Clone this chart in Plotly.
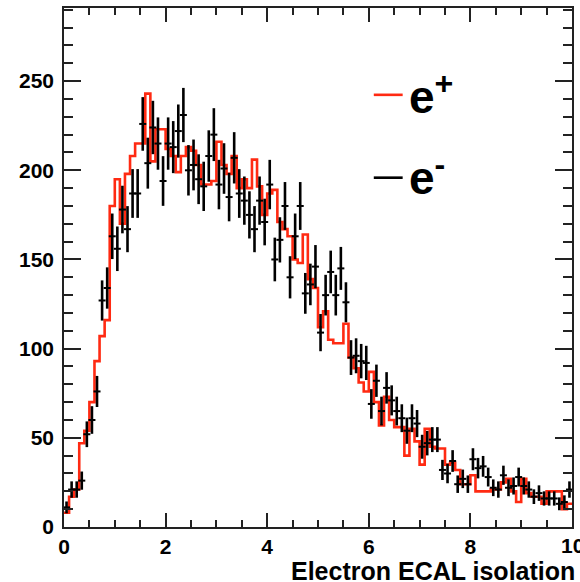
import numpy as np
import plotly.graph_objects as go

# bin edges: 100 bins from 0 to 10
bin_lo = 0.0
bin_hi = 10.0
n_bins = 100

# e+ histogram (red)
e_plus = [8, 17, 21, 47, 54, 70, 93, 107, 116, 180,
          195, 170, 198, 208, 215, 215, 243, 205, 223, 223,
          212, 208, 199, 208, 213, 211, 203, 192, 192, 194,
          216, 203, 198, 208, 190, 195, 190, 206, 191, 175,
          187, 189, 171, 167, 163, 150, 148, 164, 139, 134,
          112, 121, 105, 103, 103, 114, 95, 89, 81, 76,
          87, 70, 57, 73, 60, 56, 56, 40, 55, 48,
          35, 55, 45, 44, 44, 35, 36, 32, 24, 24,
          29, 20, 20, 20, 21, 21, 25, 27, 20, 14,
          27, 19, 17, 17, 13, 20, 20, 20, 10, 13]

# e- points (black)
e_minus = [11, 21, 21, 26, 52, 60, 76, 127, 134, 163,
           156, 178, 167, 187, 187, 226, 204, 224, 215, 194,
           215, 213, 222, 231, 200, 203, 195, 191, 208, 220,
           192, 201, 185, 207, 187, 183, 175, 167, 183, 171,
           192, 150, 161, 180, 140, 163, 180, 131, 136, 146,
           109, 130, 143, 130, 145, 126, 95, 96, 93, 92,
           69, 82, 65, 78, 71, 65, 61, 54, 61, 58,
           45, 47, 49, 49, 32, 30, 37, 24, 27, 24,
           38, 33, 34, 28, 22, 21, 29, 22, 23, 28,
           23, 21, 17, 19, 16, 16, 16, 13, 14, 21]

x_ticks = [0, 2, 4, 6, 8, 10]
x_labels = ['0', '2', '4', '6', '8', '10']
y_ticks = [0, 50, 100, 150, 200, 250]
y_labels = ['0', '50', '100', '150', '200', '250']

edges = np.linspace(bin_lo, bin_hi, n_bins + 1)
centers = 0.5 * (edges[:-1] + edges[1:])

RED = '#ff2a12'
FONT = 'Liberation Sans'
AX = '#222222'

fig = go.Figure()

fig.add_trace(go.Scatter(
    x=edges, y=list(e_plus) + [e_plus[-1]],
    mode='lines', line=dict(color=RED, width=2.6, shape='hv'),
    showlegend=False, hoverinfo='skip'))

fig.add_trace(go.Scatter(
    x=centers, y=e_minus, mode='markers',
    marker=dict(symbol='line-ew', size=5, color='black',
                line=dict(color='black', width=2)),
    error_y=dict(type='data', array=np.sqrt(np.array(e_minus, dtype=float)),
                 color='black', thickness=2.6, width=0),
    showlegend=False, hoverinfo='skip'))

axis_common = dict(showline=True, linecolor=AX, linewidth=1.5,
                   mirror='ticks', ticks='inside', tickcolor=AX,
                   tickwidth=1.5, showgrid=False, zeroline=False,
                   tickfont=dict(family=FONT, size=21, color='black', weight='bold'))

# last x label ("10") is drawn separately so it can be cut by the page edge
fig.update_xaxes(range=[bin_lo, bin_hi], tickvals=x_ticks,
                 ticktext=x_labels[:-1] + [''], ticklen=14,
                 minor=dict(dtick=0.5, ticklen=7, ticks='inside',
                            tickcolor=AX, tickwidth=1.5),
                 **axis_common)
fig.update_yaxes(range=[0, 291], tickvals=y_ticks,
                 ticktext=y_labels, ticklen=17,
                 ticklabelstandoff=4,
                 minor=dict(dtick=10, ticklen=9, ticks='inside',
                            tickcolor=AX, tickwidth=1.5),
                 **axis_common)

# plot area in pixels: x 64..574, y 7..527
L, R, T, B = 64, 574, 7, 527
W, H = R - L, B - T
def px(xp):
    return (xp - L) / W
def py(yp):
    return (B - yp) / H

fig.add_annotation(text=x_labels[-1], xref='x', yref='paper',
                   x=x_ticks[-1], y=py(546), xanchor='center', yanchor='middle',
                   showarrow=False,
                   font=dict(family=FONT, size=21, color='black', weight='bold'))

fig.add_annotation(text='Electron ECAL isolation', xref='paper', yref='paper',
                   x=px(579), y=py(571), xanchor='right', yanchor='middle',
                   showarrow=False,
                   font=dict(family=FONT, size=25, color='black', weight='bold'))

# legend
fig.add_shape(type='line', xref='paper', yref='paper', x0=px(375), x1=px(404),
              y0=py(94), y1=py(94), line=dict(color=RED, width=2.6))
fig.add_shape(type='line', xref='paper', yref='paper', x0=px(375), x1=px(404),
              y0=py(177), y1=py(177), line=dict(color='black', width=2.6))
fig.add_annotation(text='e<sup>+</sup>', xref='paper', yref='paper',
                   x=px(408), y=py(93), xanchor='left', yanchor='middle',
                   showarrow=False,
                   font=dict(family=FONT, size=46, color='black', weight='bold'))
fig.add_annotation(text='e<sup>-</sup>', xref='paper', yref='paper',
                   x=px(408), y=py(174), xanchor='left', yanchor='middle',
                   showarrow=False,
                   font=dict(family=FONT, size=46, color='black', weight='bold'))

fig.update_layout(width=580, height=582,
                  margin=dict(l=L, r=580 - R, t=T, b=582 - B),
                  paper_bgcolor='white', plot_bgcolor='white')

fig.write_html('out.html')
